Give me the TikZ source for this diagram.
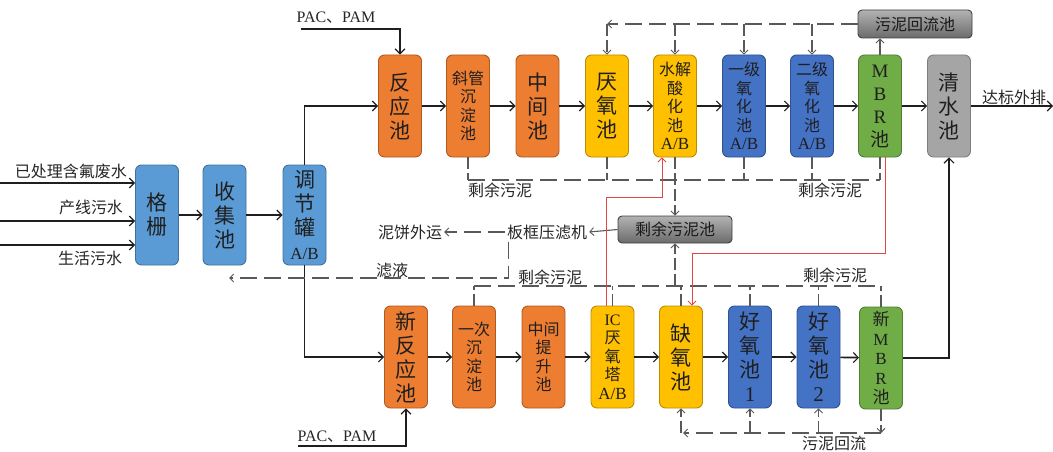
\documentclass[tikz,border=0pt]{standalone}
\usepackage{fontspec}
\setmainfont{Noto Sans CJK SC}
\newfontfamily\lat{Liberation Serif}
\usetikzlibrary{arrows.meta,calc}
\definecolor{lblue}{HTML}{5B9BD5}\definecolor{lblueD}{HTML}{41719C}
\definecolor{orng}{HTML}{ED7D31}\definecolor{orngD}{HTML}{AE5A21}
\definecolor{yelw}{HTML}{FFC000}\definecolor{yelwD}{HTML}{BC8C00}
\definecolor{dblue}{HTML}{4472C4}\definecolor{dblueD}{HTML}{2F528F}
\definecolor{grn}{HTML}{70AD47}\definecolor{grnD}{HTML}{507E32}
\definecolor{gry}{HTML}{A5A5A5}\definecolor{gryD}{HTML}{7F7F7F}
\definecolor{redl}{HTML}{E04848}
\newcommand{\ab}{{\lat\fontsize{17}{18}\selectfont A/B}}
\tikzset{
  box/.style={rounded corners=6pt, line width=0.9pt, minimum width=43pt, minimum height=102pt,
    inner sep=0pt, align=center, text=black!88, font=\fontsize{21}{24}\selectfont},
  sm/.style={font=\fontsize{16}{18.5}\selectfont},
  lb/.style={box, fill=lblue, draw=lblueD, minimum height=100pt},
  or/.style={box, fill=orng, draw=orngD},
  ye/.style={box, fill=yelw, draw=yelwD},
  bl/.style={box, fill=dblue, draw=dblueD},
  gr/.style={box, fill=grn, draw=grnD},
  gy/.style={box, fill=gry, draw=gryD},
  dg/.style={rounded corners=4pt, draw=black!75, line width=0.9pt, top color=black!30, bottom color=black!58,
    minimum width=114pt, minimum height=28pt, inner sep=0pt, text=black!90, font=\fontsize{16}{18}\selectfont},
  lbl/.style={inner sep=2pt, text=black!85, font=\fontsize{16}{18}\selectfont},
  tip/.style={-{Straight Barb[length=5pt,width=10pt,line width=1.1pt]}},
  ar/.style={draw=black!88, line width=1.7pt, tip},
  da/.style={draw=black!65, line width=1.1pt, dash pattern=on 17pt off 7pt},
  ds/.style={draw=black!65, line width=1.1pt, dash pattern=on 12pt off 4pt},
  dar/.style={da, -{Straight Barb[length=4pt,width=8pt,line width=0.9pt]}},
  dsr/.style={ds, -{Straight Barb[length=4pt,width=8pt,line width=0.9pt]}},
  gar/.style={draw=black!65, line width=1.1pt, -{Straight Barb[length=4pt,width=8pt,line width=0.9pt]}},
  rd/.style={draw=redl, line width=0.9pt, -{Straight Barb[length=4pt,width=8pt,line width=0.9pt]}}
}
\begin{document}
\begin{tikzpicture}[x=1pt,y=-1pt]
\useasboundingbox (0,0) rectangle (1053,452);
% left column
\node[lb] (gs) at (157,215) {格\\栅};
\node[lb] (sj) at (224.5,215) {收\\集\\池};
\node[lb] (tj) at (304.5,215) {调\\节\\罐\\\ab};
% top row
\node[or] (fy) at (400,106) {反\\应\\池};
\node[or,sm] (xg) at (468,106) {斜管\\沉\\淀\\池};
\node[or] (zj) at (537.5,106) {中\\间\\池};
\node[ye] (yy) at (607,106) {厌\\氧\\池};
\node[ye,sm] (sjs) at (675,106) {水解\\酸\\化\\池\\\ab};
\node[bl,sm] (yj) at (744,106) {一级\\氧\\化\\池\\\ab};
\node[bl,sm] (ej) at (812,106) {二级\\氧\\化\\池\\\ab};
\node[gr,font=\fontsize{19}{23}\selectfont] (mbr) at (880,106) {\lat M\\\lat B\\\lat R\\池};
\node[gy] (qs) at (949,106) {清\\水\\池};
\node[dg] (hl) at (915,24) {污泥回流池};
\node[dg,minimum height=27pt] (sy) at (675,229.5) {剩余污泥池};
% bottom row
\node[or] (xfy) at (406,357) {新\\反\\应\\池};
\node[or,sm] (yc) at (474,357) {一次\\沉\\淀\\池};
\node[or,sm] (zt) at (543.5,357) {中间\\提\\升\\池};
\node[ye,sm] (ic) at (612.5,357) {\lat IC\\厌\\氧\\塔\\\ab};
\node[ye] (qy) at (681,357) {缺\\氧\\池};
\node[bl] (hy1) at (750,357) {好\\氧\\池\\\lat 1};
\node[bl] (hy2) at (818.5,357) {好\\氧\\池\\\lat 2};
\node[gr,font=\fontsize{17}{19.5}\selectfont] (xmbr) at (881,358) {新\\\lat M\\\lat B\\\lat R\\池};
% labels
\node[lbl] (t1) at (71,171) {已处理含氟废水};
\node[lbl] (t2) at (91,207) {产线污水};
\node[lbl] (t3) at (90,258) {生活污水};
\node[lbl] (pac1) at (336,18) {{\lat PAC}、{\lat PAM}};
\node[lbl] (pac2) at (337,437) {{\lat PAC}、{\lat PAM}};
\node[lbl] (db) at (1014,97) {达标外排};
\node[lbl] (s1) at (500,190) {剩余污泥};
\node[lbl] (s2) at (830,190) {剩余污泥};
\node[lbl] (s3) at (550,277) {剩余污泥};
\node[lbl] (s4) at (835,275) {剩余污泥};
\node[lbl] (bk) at (547,232) {板框压滤机};
\node[lbl] (nb) at (410,232) {泥饼外运};
\node[lbl] (ly) at (392,270) {滤液};
\node[lbl] (hlt) at (834,443) {污泥回流};
% coordinates
\coordinate (i1) at (0,183);
\coordinate (i2) at (0,221);
\coordinate (i3) at (0,245);
\coordinate (out) at (1053,106);
\coordinate (p1) at (301,29);
\coordinate (p2) at (298,446);
\coordinate (rt) at (607,24);
\coordinate (ty) at (0,180);
\coordinate (by) at (0,286);
\coordinate (hy) at (0,433);
\coordinate (lyE) at (229,278);
% inputs and main flow
\draw[ar] (i1) -- (i1 -| gs.west);
\draw[ar] (i2) -- (i2 -| gs.west);
\draw[ar] (i3) -- (i3 -| gs.west);
\draw[ar] (gs) -- (sj);
\draw[ar] (sj) -- (tj);
\draw[ar] (tj.north) |- (fy.west);
\draw[ar] (tj.south) |- (xfy.west);
\draw[ar] (p1) -| (fy.north);
\draw[ar] (p2) -| (xfy.south);
\foreach \a/\b in {fy/xg,xg/zj,zj/yy,yy/sjs,sjs/yj,yj/ej,ej/mbr,mbr/qs,xfy/yc,yc/zt,zt/ic,ic/qy,qy/hy1,hy1/hy2,hy2/xmbr}
  \draw[ar] (\a) -- (\b);
\draw[ar] (qs) -- (out);
\draw[ar] (xmbr.east) -| (qs.south);
% sludge return top
\draw[dar] (hl.west) -- (rt);
\draw[dsr] (rt) -- (yy.north);
\draw[dsr] (sjs.north |- rt) -- (sjs.north);
\draw[dsr] (yj.north |- rt) -- (yj.north);
\draw[dsr] (ej.north |- rt) -- (ej.north);
\draw[gar] (mbr.north) -- (mbr.north |- hl.south);
% excess sludge top
\draw[da] (xg.south |- ty) -- (mbr.south |- ty);
\draw[ds] (xg.south) -- (xg.south |- ty);
\draw[ds] (mbr.south) -- (mbr.south |- ty);
\draw[ds] (yy.south) -- (yy.south |- ty);
\draw[ds] (yj.south) -- (yj.south |- ty);
\draw[ds] (ej.south) -- (ej.south |- ty);
\draw[dsr] (sjs.south) -- (sy.north);
% excess sludge bottom
\draw[da] (yc.north |- by) -- (xmbr.north |- by);
\draw[ds] (yc.north) -- (yc.north |- by);
\draw[ds] (xmbr.north) -- (xmbr.north |- by);
\draw[ds] (ic.north) -- (ic.north |- by);
\draw[ds] (qy.north) -- (qy.north |- by);
\draw[ds] (hy1.north) -- (hy1.north |- by);
\draw[ds] (hy2.north) -- (hy2.north |- by);
\draw[dsr] (sy.south |- by) -- (sy.south);
% filter press
\draw[gar] (sy.west) -- (bk.east);
\draw[dar] (bk.west) -- (nb.east);
\draw[dar] (bk.south west) ++(4,0) |- (lyE);
% red lines
\draw[rd] ([xshift=-6.5pt]ic.north) |- ([xshift=-13pt]sjs.south |- 0,197) -- ([xshift=-13pt]sjs.south);
\draw[rd] ([xshift=5pt]mbr.south) -- ([xshift=5pt]mbr.south |- 0,253) -- ([xshift=11pt]qy.north |- 0,253) -- ([xshift=11pt]qy.north);
% sludge return bottom
\draw[dsr] (xmbr.south) -- (xmbr.south |- hy);
\draw[dar] (xmbr.south |- hy) -- ([xshift=2pt]qy.south |- hy);
\draw[dsr] (qy.south |- hy) -- (qy.south);
\draw[dsr] (hy1.south |- hy) -- (hy1.south);
\draw[dsr] (hy2.south |- hy) -- (hy2.south);
\end{tikzpicture}
\end{document}
